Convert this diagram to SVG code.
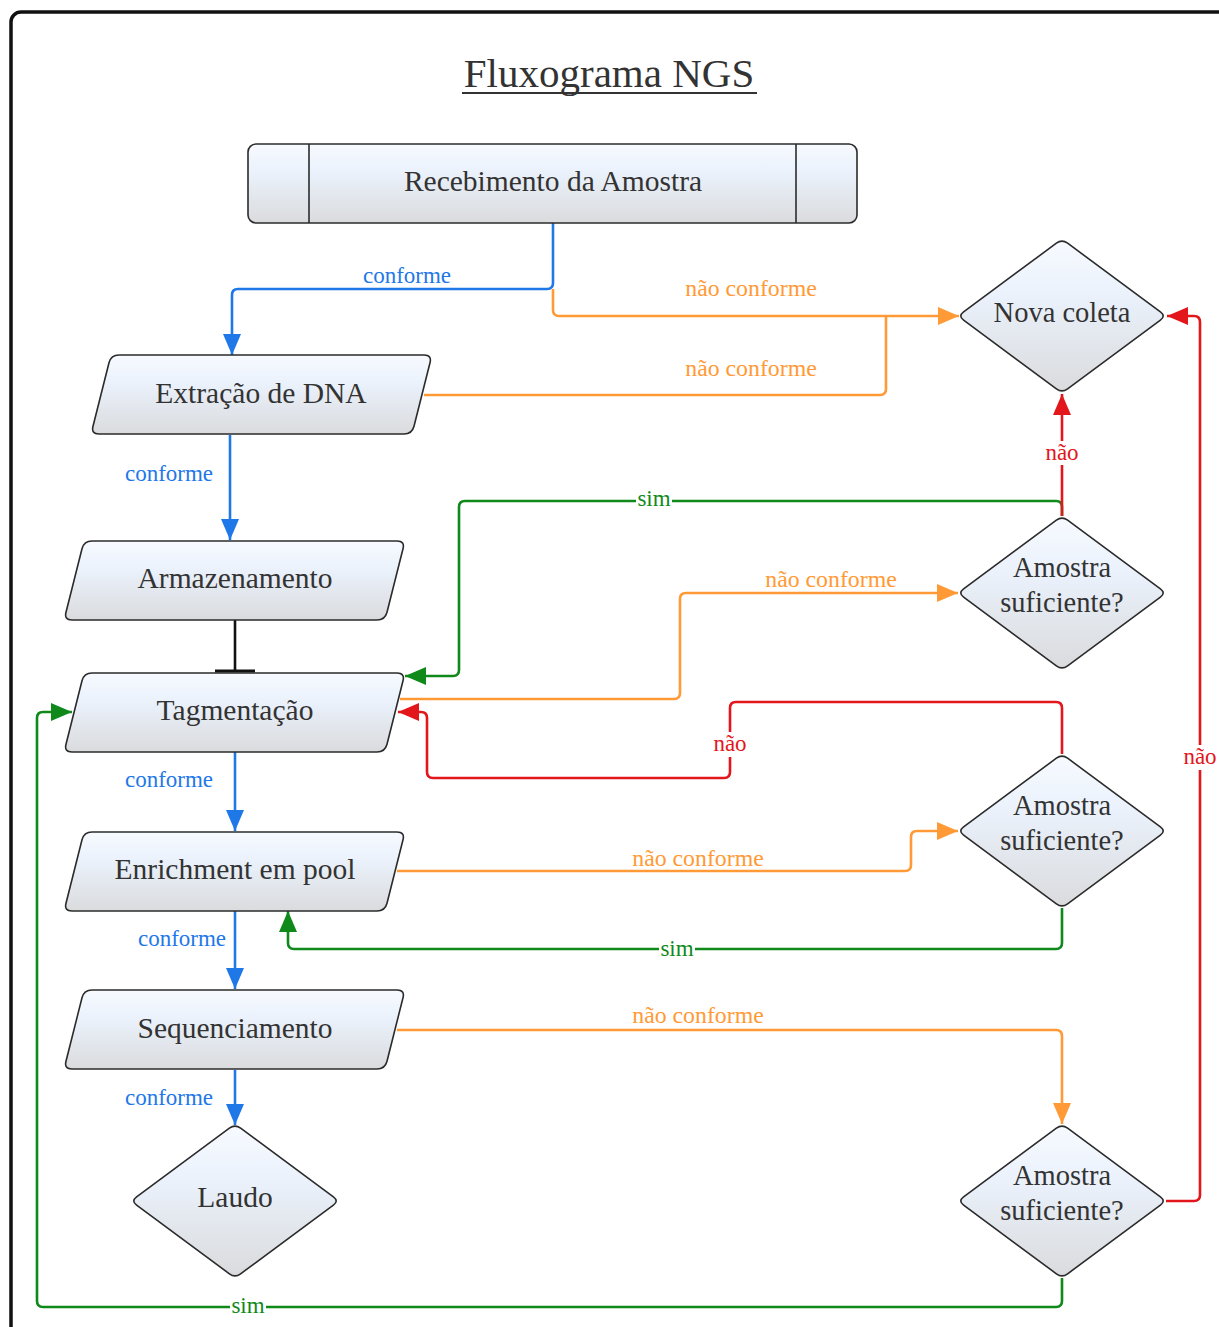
<svg xmlns="http://www.w3.org/2000/svg" xmlns:xlink="http://www.w3.org/1999/xlink" width="1219" height="1327" viewBox="0 0 1219 1327">
  <style>
    .node { fill: url(#nodeFill); stroke: #2b2b2b; stroke-width: 1.6; }
    .lbl { font-family: "Liberation Serif", "Times New Roman", serif; fill: #333; text-anchor: middle; }
    .big { font-size: 29.5px; }
    .dia { font-size: 28.5px; }
    .edge { fill: none; stroke-width: 2.6; stroke-linejoin: round; }
    .blue { stroke: #1f78e8; }
    .orange { stroke: #ff9a36; }
    .green { stroke: #10891b; }
    .red { stroke: #e3161b; }
    .elbl { font-family: "Liberation Serif", "Times New Roman", serif; font-size: 23px; text-anchor: middle; }
    .nc { font-size: 23.8px; }
    .tb { fill: #1f78e8; }
    .to { fill: #ff9a36; }
    .tg { fill: #10891b; }
    .tr { fill: #e3161b; }
    .gap { fill: #ffffff; }
  </style>
  <defs>
    <linearGradient id="nodeFill" x1="0" y1="0" x2="0" y2="1">
      <stop offset="0" stop-color="#f7faff"/>
      <stop offset="0.35" stop-color="#ebf2fc"/>
      <stop offset="1" stop-color="#dadbdd"/>
    </linearGradient>
    <!-- slanted data box, 341 x 79 -->
    <path id="para" d="M28,0 H333 Q341,0 339,7.75 L323,71.25 Q321,79 313,79 H8 Q0,79 2,71.25 L18,7.75 Q20,0 28,0 Z"/>
    <!-- decision diamond centred on origin -->
    <path id="diamond" d="M-98.4,-4.2 L-5.6,-72.8 Q0,-77 5.6,-72.8 L98.4,-4.2 Q104,0 98.4,4.2 L5.6,72.8 Q0,77 -5.6,72.8 L-98.4,4.2 Q-104,0 -98.4,-4.2 Z"/>
    <marker id="ab" markerUnits="userSpaceOnUse" markerWidth="22" markerHeight="18" refX="21" refY="9" orient="auto"><path d="M0,0 L21,9 L0,18 Z" fill="#1f78e8"/></marker>
    <marker id="ao" markerUnits="userSpaceOnUse" markerWidth="22" markerHeight="18" refX="21" refY="9" orient="auto"><path d="M0,0 L21,9 L0,18 Z" fill="#ff9a36"/></marker>
    <marker id="ag" markerUnits="userSpaceOnUse" markerWidth="22" markerHeight="18" refX="21" refY="9" orient="auto"><path d="M0,0 L21,9 L0,18 Z" fill="#10891b"/></marker>
    <marker id="ar" markerUnits="userSpaceOnUse" markerWidth="22" markerHeight="18" refX="21" refY="9" orient="auto"><path d="M0,0 L21,9 L0,18 Z" fill="#e3161b"/></marker>
  </defs>

  <rect width="1219" height="1327" fill="#ffffff"/>
  <!-- page frame -->
  <rect x="11" y="12" width="1260" height="1400" rx="10" fill="none" stroke="#111" stroke-width="3.5"/>

  <!-- title -->
  <g id="title">
    <text class="lbl" x="609" y="87" font-size="41">Fluxograma NGS</text>
    <line x1="462" y1="93" x2="757" y2="93" stroke="#333" stroke-width="1.8"/>
  </g>

  <!-- connectors -->
  <g id="connectors">
    <path class="edge blue" d="M553,223 V283 Q553,289 547,289 H238 Q232,289 232,295 V355" marker-end="url(#ab)"/>
    <path class="edge orange" d="M553,289 V310 Q553,316 559,316 H959" marker-end="url(#ao)"/>
    <path class="edge orange" d="M424,395 H880 Q886,395 886,389 V316"/>
    <path class="edge blue" d="M230,435 V540" marker-end="url(#ab)"/>
    <path class="edge" stroke="#111" d="M235,620 V671"/>
    <path fill="none" stroke="#111" stroke-width="3" d="M215,671 H255"/>
    <path class="edge green" d="M1062,516 V507 Q1062,501 1056,501 H465 Q459,501 459,507 V670 Q459,676 453,676 H405" marker-end="url(#ag)"/>
    <path class="edge red" d="M1062,516 V394" marker-end="url(#ar)"/>
    <path class="edge orange" d="M400,699 H674 Q680,699 680,693 V599 Q680,593 686,593 H958" marker-end="url(#ao)"/>
    <path class="edge red" d="M1062,754 V708 Q1062,702 1056,702 H736 Q730,702 730,708 V772 Q730,778 724,778 H433 Q427,778 427,772 V718 Q427,712 421,712 H398" marker-end="url(#ar)"/>
    <path class="edge blue" d="M235,752 V831" marker-end="url(#ab)"/>
    <path class="edge orange" d="M397,871 H905 Q911,871 911,865 V837 Q911,831 917,831 H958" marker-end="url(#ao)"/>
    <path class="edge green" d="M1062,908 V943 Q1062,949 1056,949 H294 Q288,949 288,943 V911" marker-end="url(#ag)"/>
    <path class="edge blue" d="M235,911 V989" marker-end="url(#ab)"/>
    <path class="edge orange" d="M397,1030 H1056 Q1062,1030 1062,1036 V1124" marker-end="url(#ao)"/>
    <path class="edge blue" d="M235,1070 V1125" marker-end="url(#ab)"/>
    <path class="edge green" d="M1062,1278 V1301 Q1062,1307 1056,1307 H43 Q37,1307 37,1301 V718 Q37,712 43,712 H72" marker-end="url(#ag)"/>
    <path class="edge red" d="M1166,1201 H1194 Q1200,1201 1200,1195 V322 Q1200,316 1194,316 H1167" marker-end="url(#ar)"/>

    <!-- edge labels -->
    <text class="elbl tb" x="407" y="283">conforme</text>
    <text class="elbl nc to" x="751" y="296">não conforme</text>
    <text class="elbl nc to" x="751" y="376">não conforme</text>
    <text class="elbl tb" x="169" y="481">conforme</text>
    <rect class="gap" x="636" y="489" width="36" height="22"/>
    <text class="elbl tg" x="654" y="506">sim</text>
    <rect class="gap" x="1043" y="441" width="38" height="24"/>
    <text class="elbl tr" x="1062" y="460">não</text>
    <text class="elbl nc to" x="831" y="587">não conforme</text>
    <rect class="gap" x="710" y="732" width="40" height="25"/>
    <text class="elbl tr" x="730" y="751">não</text>
    <text class="elbl tb" x="169" y="787">conforme</text>
    <text class="elbl nc to" x="698" y="866">não conforme</text>
    <rect class="gap" x="659" y="939" width="36" height="22"/>
    <text class="elbl tg" x="677" y="956">sim</text>
    <text class="elbl tb" x="182" y="946">conforme</text>
    <text class="elbl nc to" x="698" y="1023">não conforme</text>
    <text class="elbl tb" x="169" y="1105">conforme</text>
    <rect class="gap" x="1181" y="745" width="38" height="25"/>
    <text class="elbl tr" x="1200" y="764">não</text>
    <rect class="gap" x="230" y="1296" width="36" height="22"/>
    <text class="elbl tg" x="248" y="1313">sim</text>
  </g>

  <!-- nodes -->
  <g id="recebimento">
    <rect class="node" x="248" y="144" width="609" height="79" rx="8"/>
    <line x1="309" y1="144" x2="309" y2="223" stroke="#2b2b2b" stroke-width="1.6"/>
    <line x1="796" y1="144" x2="796" y2="223" stroke="#2b2b2b" stroke-width="1.6"/>
    <text class="lbl big" x="553" y="191">Recebimento da Amostra</text>
  </g>
  <g id="extracao">
    <use href="#para" xlink:href="#para" class="node" transform="translate(91,355)"/>
    <text class="lbl big" x="261" y="403">Extração de DNA</text>
  </g>
  <g id="armazenamento">
    <use href="#para" xlink:href="#para" class="node" transform="translate(64,541)"/>
    <text class="lbl big" x="235" y="588">Armazenamento</text>
  </g>
  <g id="tagmentacao">
    <use href="#para" xlink:href="#para" class="node" transform="translate(64,673)"/>
    <text class="lbl big" x="235" y="720">Tagmentação</text>
  </g>
  <g id="enrichment">
    <use href="#para" xlink:href="#para" class="node" transform="translate(64,832)"/>
    <text class="lbl big" x="235" y="879">Enrichment em pool</text>
  </g>
  <g id="sequenciamento">
    <use href="#para" xlink:href="#para" class="node" transform="translate(64,990)"/>
    <text class="lbl big" x="235" y="1038">Sequenciamento</text>
  </g>
  <g id="laudo">
    <use href="#diamond" xlink:href="#diamond" class="node" transform="translate(235,1201)"/>
    <text class="lbl big" x="235" y="1207">Laudo</text>
  </g>
  <g id="nova-coleta">
    <use href="#diamond" xlink:href="#diamond" class="node" transform="translate(1062,316)"/>
    <text class="lbl dia" x="1062" y="322">Nova coleta</text>
  </g>
  <g id="amostra-1">
    <use href="#diamond" xlink:href="#diamond" class="node" transform="translate(1062,593)"/>
    <text class="lbl dia" x="1062" y="577">Amostra</text>
    <text class="lbl dia" x="1062" y="612">suficiente?</text>
  </g>
  <g id="amostra-2">
    <use href="#diamond" xlink:href="#diamond" class="node" transform="translate(1062,831)"/>
    <text class="lbl dia" x="1062" y="815">Amostra</text>
    <text class="lbl dia" x="1062" y="850">suficiente?</text>
  </g>
  <g id="amostra-3">
    <use href="#diamond" xlink:href="#diamond" class="node" transform="translate(1062,1201)"/>
    <text class="lbl dia" x="1062" y="1185">Amostra</text>
    <text class="lbl dia" x="1062" y="1220">suficiente?</text>
  </g>
</svg>
